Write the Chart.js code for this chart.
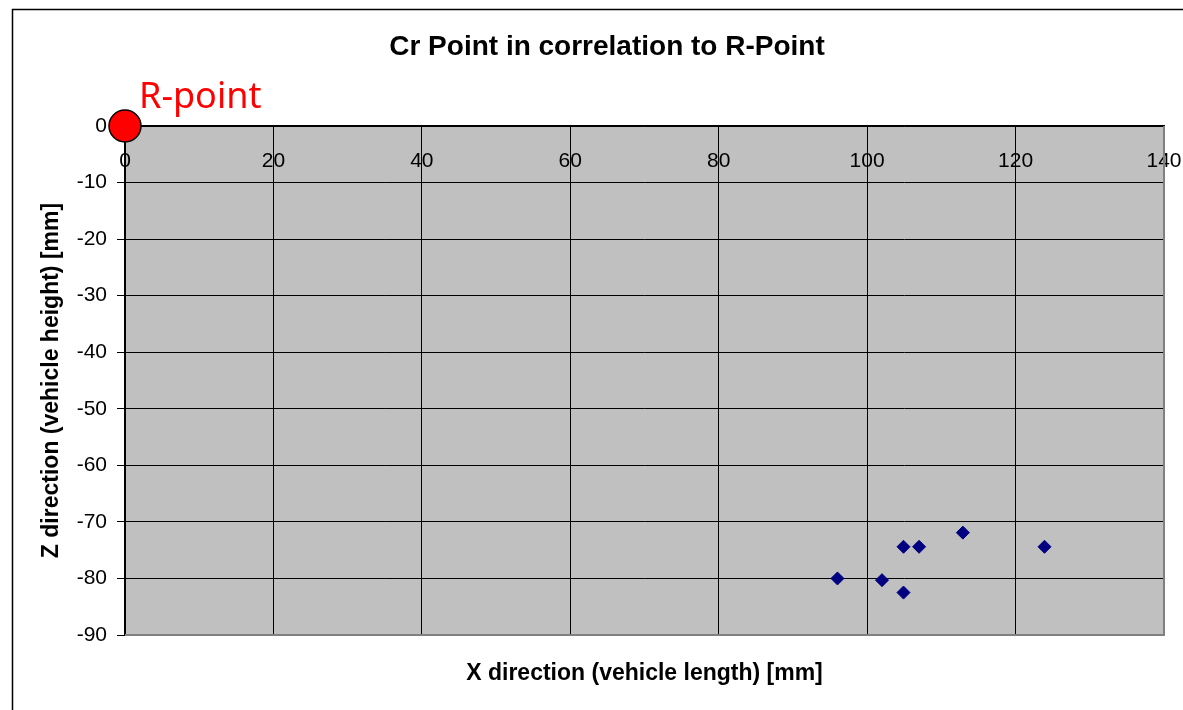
<!DOCTYPE html>
<html>
<head>
<meta charset="utf-8">
<script src="https://cdn.jsdelivr.net/npm/chart.js@4.4.0/dist/chart.umd.min.js"></script>
<style>
  html, body { margin: 0; padding: 0; background: #fff; }
  #wrap { width: 1183px; height: 710px; position: relative; }
</style>
</head>
<body>
<div id="wrap"><canvas id="chart"></canvas></div>
<script>
// valores (mm)
const crX = [96, 102, 104.9, 107, 112.9, 123.9, 104.9];
const crZ = [-80, -80.3, -74.4, -74.4, -71.9, -74.4, -82.5];
const refX = [0];
const refZ = [0];
const refLabel = 'R-point';

const titleText = 'Cr Point in correlation to R-Point';
const xTitle = 'X direction (vehicle length) [mm]';
const zTitle = 'Z direction (vehicle height) [mm]';

const FONT = '"Liberation Sans", Arial, sans-serif';

// fondo gris, borde del gráfico y etiqueta del punto R
const decor = {
  id: 'decor',
  beforeDraw(chart) {
    const { ctx, chartArea: a } = chart;
    ctx.save();
    ctx.strokeStyle = '#000';
    ctx.lineWidth = 1.5;
    ctx.strokeRect(12.5, 9.5, 1300, 800);
    ctx.fillStyle = '#c0c0c0';
    ctx.fillRect(a.left, a.top, a.right - a.left, a.bottom - a.top);
    ctx.restore();
  },
  beforeDatasetsDraw(chart) {
    const { ctx, chartArea: a } = chart;
    ctx.save();
    ctx.strokeStyle = '#808080';
    ctx.lineWidth = 2;
    ctx.beginPath();
    ctx.moveTo(a.right, a.top);
    ctx.lineTo(a.right, a.bottom);
    ctx.lineTo(a.left, a.bottom);
    ctx.stroke();
    ctx.restore();
  },
  afterDatasetsDraw(chart) {
    const { ctx, scales } = chart;
    const px = scales.x.getPixelForValue(refX[0]);
    const py = scales.y.getPixelForValue(refZ[0]);
    ctx.save();
    ctx.fillStyle = '#ff0000';
    ctx.font = '36px "Noto Sans", "Open Sans", sans-serif';
    ctx.textBaseline = 'alphabetic';
    ctx.fillText(refLabel, px + 14, py - 18);
    ctx.restore();
  },
};

new Chart(document.getElementById('chart'), {
  type: 'scatter',
  data: {
    datasets: [
      {
        label: 'Cr',
        data: crX.map((x, i) => ({ x, y: crZ[i] })),
        pointStyle:           'rectRot',
        pointRadius:          6.5,
        pointHoverRadius:     6.5,
        backgroundColor:      '#000080',
        borderColor:          '#000080',
        borderWidth:          1,
      },
      {
        label: 'R',
        data: refX.map((x, i) => ({ x, y: refZ[i] })),
        pointStyle:       'circle',
        pointRadius:      16,
        pointHoverRadius: 16,
        backgroundColor:  '#ff0000',
        borderColor:      '#000',
        borderWidth:      1.5,
        clip:             false,
      },
    ],
  },
  options: {
    responsive:          true,
    maintainAspectRatio: false,
    animation:           false,
    layout: { padding: { left: 50, right: 19, top: 0, bottom: 0 } },
    plugins: {
      legend:  { display: false },
      tooltip: { enabled: false },
      title: {
        display: true,
        text:    titleText,
        color:   '#000',
        font:    { family: FONT, size: 28, weight: 'bold' },
        padding: { top: 30, bottom: 0 },
      },
    },
    scales: {
      x: {
        type: 'linear', position: 'top', min: 0, max: 140,
        afterFit: s => { s.height = 126 - 63.6; s.paddingLeft = 0; s.paddingRight = 0; },
        ticks:  { stepSize: 20, mirror: true, padding: 23, color: '#000', maxRotation: 0,
                  font: { family: FONT, size: 21 } },
        grid:   { color: c => c.tick && c.tick.value === 140 ? 'rgba(0,0,0,0)' : '#000',
                  drawTicks: false, lineWidth: 1 },
        border: { color: '#000', width: 1.5 },
      },
      x2: {
        type: 'linear', position: 'bottom', min: 0, max: 140,
        afterFit: s => { s.height = 75; s.paddingLeft = 0; s.paddingRight = 0; },
        ticks:  { display: false },
        grid:   { display: false },
        border: { display: false },
        title:  { display: true, text: xTitle, color: '#000', padding: { top: 0, bottom: 23 },
                  font: { family: FONT, size: 23, weight: 'bold' } },
      },
      y: {
        type: 'linear', position: 'left', min: -90, max: 0,
        afterFit: s => { s.width = 75; },
        ticks:  { stepSize: 10, padding: 10, color: '#000', font: { family: FONT, size: 21 } },
        grid:   { color: c => c.tick && c.tick.value === -90 ? 'rgba(0,0,0,0)' : '#000',
                  tickColor: '#000', tickLength: 8, lineWidth: 1 },
        border: { color: '#000', width: 1.5 },
        title:  { display: true, text: zTitle, color: '#000', padding: { top: -12, bottom: 0 },
                  font: { family: FONT, size: 23, weight: 'bold' } },
      },
    },
  },
  plugins: [decor],
});
</script>
</body>
</html>
